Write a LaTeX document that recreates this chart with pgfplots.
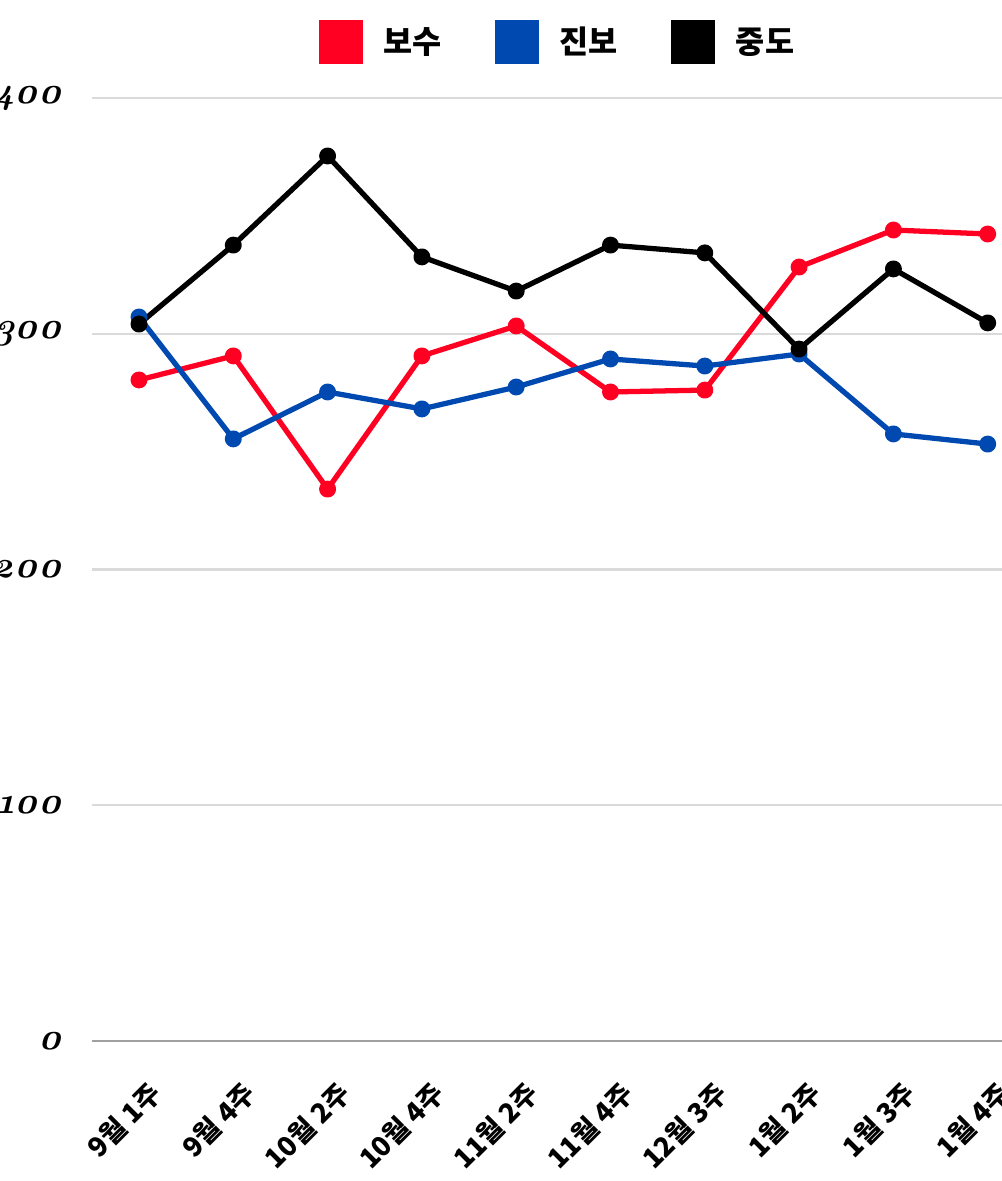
\documentclass[border=0pt]{standalone}
\usepackage{pgfplots}
\pgfplotsset{compat=1.18}
\usepackage{fontspec}
\newfontfamily\kr{Noto Sans CJK KR}
\newfontfamily\numfont{lmroman10-bolditalic}[Extension=.otf, Numbers=OldStyle]
\definecolor{cRed}{HTML}{FF0022}
\definecolor{cBlue}{HTML}{0049B0}
\definecolor{gridc}{HTML}{DADADA}
\definecolor{axc}{HTML}{A0A0A0}
\begin{document}
\begin{tikzpicture}[x=1cm,y=1cm]
\path[use as bounding box] (0,0) rectangle (20.02,23.62);
\begin{axis}[
  at={(2.78cm,2.8cm)}, anchor=origin,
  x=1.886cm, y=0.04715cm,
  xmin=-0.5, xmax=9.5, ymin=0, ymax=400,
  axis line style={draw=none},
  major tick style={draw=none},
  minor tick style={draw=none},
  ytick={100,200,300,400},
  extra y ticks={0},
  extra y tick style={grid style={axc, line width=1.4pt}},
  ymajorgrids,
  grid style={gridc, line width=1.2pt},
  /pgf/number format/assume math mode=true,
  yticklabel style={font=\numfont\fontsize{21}{22}\selectfont, inner sep=0pt, xshift=-0.6cm},
  xtick={0,...,9},
  xticklabels={9월 1주, 9월 4주, 10월 2주, 10월 4주, 11월 2주, 11월 4주, 12월 3주, 1월 2주, 1월 3주, 1월 4주},
  xticklabel style={font=\kr\bfseries\fontsize{15.5}{17}\selectfont, inner sep=0pt, xshift=0.16cm, yshift=-0.76cm, rotate=45, anchor=north east},
  legend columns=3,
  legend style={at={(0.4926,1.0594)}, anchor=center, draw=none, fill=none,
    font=\kr\bfseries\fontsize{18}{20}\selectfont,
    nodes={inner sep=0pt},
    /tikz/every odd column/.append style={column sep=0.42cm},
    /tikz/every even column/.append style={column sep=1.06cm}},
  legend image code/.code={\path[#1, fill, draw=none] (0cm,-0.44cm) rectangle (0.88cm,0.44cm);},
  every axis plot/.append style={line width=3pt, mark=*, mark size=3.3pt, line join=round},
]
\addplot[color=cRed] coordinates {(0,280.4) (1,290.6) (2,234.1) (3,290.6) (4,303.3) (5,275.3) (6,276.1) (7,328.3) (8,344.0) (9,342.3)};
\addlegendentry{보수}
\addplot[color=cBlue] coordinates {(0,307.1) (1,255.4) (2,275.3) (3,268.1) (4,277.4) (5,289.3) (6,286.3) (7,291.4) (8,257.5) (9,253.2)};
\addlegendentry{진보}
\addplot[color=black] coordinates {(0,304.1) (1,337.6) (2,375.4) (3,332.6) (4,318.1) (5,337.6) (6,334.3) (7,293.5) (8,327.5) (9,304.6)};
\addlegendentry{중도}
\end{axis}
\end{tikzpicture}
\end{document}
